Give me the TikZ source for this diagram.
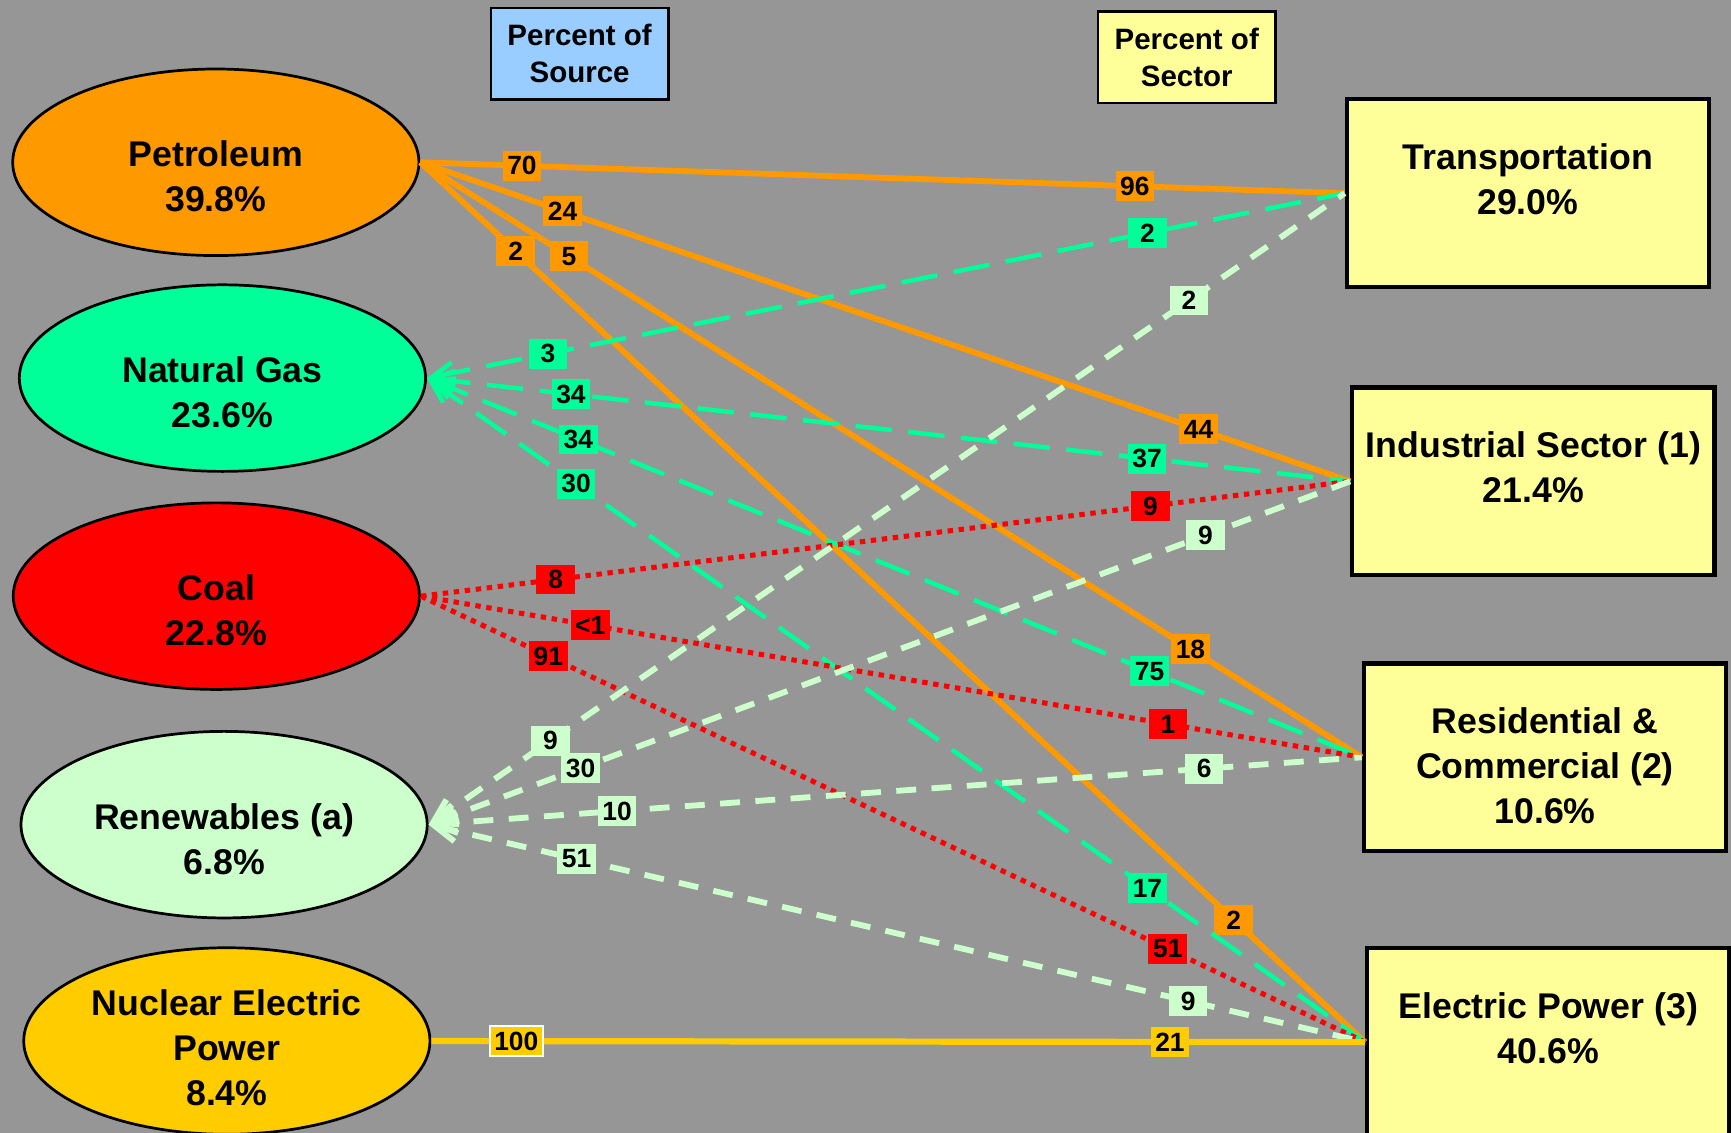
\documentclass[tikz,border=0pt]{standalone}
\usepackage{fontspec}
\setmainfont{Liberation Sans}
\usetikzlibrary{shapes.geometric,arrows.meta}

\definecolor{bggray}{HTML}{969696}
\definecolor{petorange}{HTML}{FF9900}
\definecolor{gasgreen}{HTML}{00FF99}
\definecolor{coalred}{HTML}{FF0000}
\definecolor{renewgreen}{HTML}{CCFFCC}
\definecolor{nucgold}{HTML}{FFCC00}
\definecolor{sectoryellow}{HTML}{FFFF99}
\definecolor{sourceblue}{HTML}{99CCFF}

\tikzset{
  srcnode/.style={ellipse, draw=black, line width=0.7pt, minimum width=36.8mm, minimum height=16.9mm, inner sep=0pt},
  secnode/.style={rectangle, draw=black, line width=1.1pt, fill=sectoryellow, minimum width=32.8mm, minimum height=17mm, inner sep=0pt},
  bigtext/.style={align=center, font=\fontsize{9.2}{11.6}\selectfont\bfseries, text=black},
  headbox/.style={rectangle, draw=black, line width=0.6pt, minimum width=16.1mm, minimum height=8.3mm, inner sep=0pt, align=center, font=\fontsize{7.6}{9.7}\selectfont\bfseries},
  numlab/.style={fill=#1, text=black, minimum width=3.5mm, minimum height=2.7mm, inner sep=0.2mm, font=\fontsize{6.8}{7}\selectfont\bfseries},
  petline/.style={draw=petorange, line width=1.5pt},
  gasline/.style={draw=gasgreen, line width=1.15pt, dash pattern=on 3.3mm off 1.5mm, arrows={Straight Barb[length=2mm,width=1.9mm]-}},
  coalline/.style={draw=coalred, line width=1.3pt, dash pattern=on 1.4pt off 1.45pt},
  renline/.style={draw=renewgreen, line width=1.5pt, dash pattern=on 1.8mm off 1.4mm, arrows={Straight Barb[length=2mm,width=1.9mm]-}},
  nucline/.style={draw=nucgold, line width=1.6pt}
}

\begin{document}
\begin{tikzpicture}[x=0.1mm, y=-0.1mm]
\useasboundingbox (0,0) rectangle (1568,1026);
\fill[bggray] (0,0) rectangle (1568,1026); % background

\node[headbox, fill=sourceblue] (hsrc) at (525,48.5) {Percent of\\Source};
\node[headbox, fill=sectoryellow] (hsec) at (1075,52) {Percent of\\Sector};

% sources
\node[srcnode, fill=petorange, label={[bigtext, yshift=-1.3mm]center:{Petroleum\\39.8\%}}] (pet) at (195.5,147) {};
\node[srcnode, fill=gasgreen, label={[bigtext, yshift=-1.3mm]center:{Natural Gas\\23.6\%}}] (gas) at (201.5,342.5) {};
\node[srcnode, fill=coalred, label={[bigtext, yshift=-1.3mm]center:{Coal\\22.8\%}}] (coal) at (196,540) {};
\node[srcnode, fill=renewgreen, label={[bigtext, yshift=-1.3mm]center:{Renewables (a)\\6.8\%}}] (ren) at (203,747) {};
\node[srcnode, fill=nucgold, label={[bigtext, yshift=-0.6mm]center:{Nuclear Electric\\Power\\8.4\%}}] (nuc) at (205.5,943) {};

% sectors
\node[secnode, label={[bigtext, yshift=1.3mm]center:{Transportation\\29.0\%}}] (trans) at (1384,175) {};
\node[secnode, label={[bigtext, yshift=1.3mm]center:{Industrial Sector (1)\\21.4\%}}] (ind) at (1389,436) {};
\node[secnode, label={[bigtext, yshift=-0.8mm]center:{Residential \&\\Commercial (2)\\10.6\%}}] (res) at (1399.5,686) {};
\node[secnode, label={[bigtext, yshift=1.3mm]center:{Electric Power (3)\\40.6\%}}] (elec) at (1402.5,944) {};

% petroleum
\draw[petline] (pet.east) -- node[numlab=petorange, pos=0.110] {70} node[numlab=petorange, pos=0.773] {96} (trans.west);
\draw[petline] (pet.east) -- node[numlab=petorange, pos=0.153] {24} node[numlab=petorange, pos=0.837] {44} (ind.west);
\draw[petline] (pet.east) -- node[numlab=petorange, pos=0.158] {5} node[numlab=petorange, pos=0.818] {18} (res.west);
\draw[petline] (pet.east) -- node[numlab=petorange, pos=0.101] {2} node[numlab=petorange, pos=0.861] {2} (elec.west);

% natural gas
\draw[gasline] (gas.east) -- node[numlab=gasgreen, pos=0.132] {3} node[numlab=gasgreen, pos=0.785] {2} (trans.west);
\draw[gasline] (gas.east) -- node[numlab=gasgreen, pos=0.156] {34} node[numlab=gasgreen, pos=0.780] {37} (ind.west);
\draw[gasline] (gas.east) -- node[numlab=gasgreen, pos=0.162] {34} node[numlab=gasgreen, pos=0.773] {75} (res.west);
\draw[gasline] (gas.east) -- node[numlab=gasgreen, pos=0.159] {30} node[numlab=gasgreen, pos=0.768] {17} (elec.west);

% coal
\draw[coalline] (coal.east) -- node[numlab=coalred, pos=0.145] {8} node[numlab=coalred, pos=0.785] {9} (ind.west);
\draw[coalline] (coal.east) -- node[numlab=coalred, pos=0.180] {<1} node[numlab=coalred, pos=0.794] {1} (res.west);
\draw[coalline] (coal.east) -- node[numlab=coalred, pos=0.135] {91} node[numlab=coalred, pos=0.791] {51} (elec.west);

% renewables
\draw[renline] (ren.east) -- node[numlab=renewgreen, pos=0.133] {9} node[numlab=renewgreen, pos=0.830] {2} (trans.west);
\draw[renline] (ren.east) -- node[numlab=renewgreen, pos=0.165] {30} node[numlab=renewgreen, pos=0.843] {9} (ind.west);
\draw[renline] (ren.east) -- node[numlab=renewgreen, pos=0.202] {10} node[numlab=renewgreen, pos=0.831] {6} (res.west);
\draw[renline] (ren.east) -- node[numlab=renewgreen, pos=0.158] {51} node[numlab=renewgreen, pos=0.811] {9} (elec.west);

% nuclear
\draw[nucline] (nuc.east) -- node[numlab=nucgold, draw=white, line width=0.5pt, minimum width=4.8mm, pos=0.091] {100} node[numlab=nucgold, pos=0.791] {21} (elec.west);
\end{tikzpicture}
\end{document}
